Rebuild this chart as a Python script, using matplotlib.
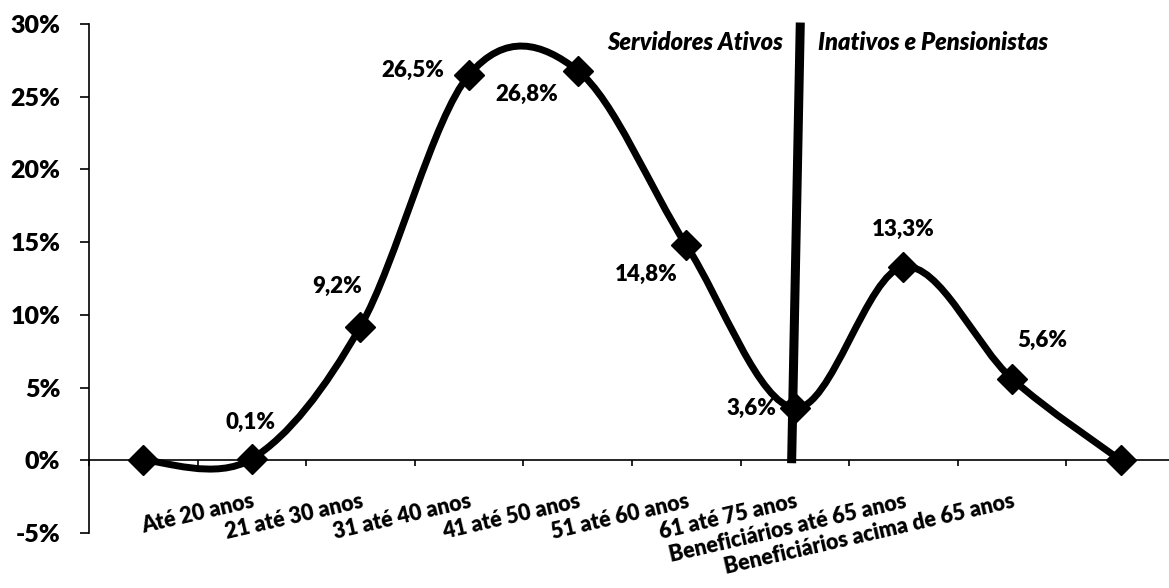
#=======================#
# Libraries importation #
#=======================#

import matplotlib
matplotlib.use("Agg")
import matplotlib.pyplot as plt
from matplotlib.path import Path
from matplotlib.patches import PathPatch

#======#
# Data #
#======#

categories = ["", "Até 20 anos", "21 até 30 anos", "31 até 40 anos", "41 até 50 anos",
              "51 até 60 anos", "61 até 75 anos", "Beneficiários até 65 anos",
              "Beneficiários acima de 65 anos", ""]
values = [0.0, 0.1, 9.2, 26.5, 26.8, 14.8, 3.6, 13.3, 5.6, 0.0]
labelled = [False, True, True, True, True, True, True, True, True, False]
y_ticks = [-5, 0, 5, 10, 15, 20, 25, 30]
y_tick_labels = ["-5%", "0%", "5%", "10%", "15%", "20%", "25%", "30%"]
left_group = "Servidores Ativos"
right_group = "Inativos e Pensionistas"

#==================#
# Global variables #
#==================#

FONT = ["Lato", "DejaVu Sans"]
INK = "black"
WEIGHT = "heavy"
# offsets (points) and alignment of each data label relative to its marker
LABEL_OFFSETS = [None, (-1, 26, "center"), (-17, 29, "center"), (-18, 3, "right"),
                 (-37, -17, "center"), (-29, -21, "center"), (-13, 0, "right"),
                 (0, 27, "center"), (22, 28, "center"), None]

plt.rcParams["font.family"] = FONT


def excel_smooth(xs, ys):
    """ Builds a cubic Bezier path similar to Excel's smoothed line. """
    n = len(xs)
    verts = [(xs[0], ys[0])]
    codes = [Path.MOVETO]
    for i in range(n - 1):
        p = max(i - 1, 0)
        q = min(i + 2, n - 1)
        c1 = (xs[i] + (xs[i + 1] - xs[p]) / 6, ys[i] + (ys[i + 1] - ys[p]) / 6)
        c2 = (xs[i + 1] - (xs[q] - xs[i]) / 6, ys[i + 1] - (ys[q] - ys[i]) / 6)
        verts += [c1, c2, (xs[i + 1], ys[i + 1])]
        codes += [Path.CURVE4] * 3
    return Path(verts, codes)


#==========#
# Plotting #
#==========#

fig = plt.figure(figsize=(11.69, 5.88), dpi=100)
ax = fig.add_axes([0.0761, 0.0935, 0.929, 0.8657])

x = list(range(len(categories)))

ax.add_patch(PathPatch(excel_smooth(x, values), facecolor="none", edgecolor=INK,
                       lw=5, zorder=3, capstyle="round", joinstyle="round"))
ax.plot(x, values, linestyle="none", marker="D", ms=15, color=INK, zorder=4)

# separator between active and inactive groups
ax.plot([5.97, 6.05], [-0.2, 30.1], color=INK, lw=6.5, solid_capstyle="butt",
        zorder=5, clip_on=False)
ax.text(5.89, 28.7, left_group, ha="right", va="center", fontsize=17,
        fontweight=WEIGHT, fontstyle="italic")
ax.text(6.21, 28.7, right_group, ha="left", va="center", fontsize=17,
        fontweight=WEIGHT, fontstyle="italic")

for xi, v, show, off in zip(x, values, labelled, LABEL_OFFSETS):
    if not show:
        continue
    ax.annotate(f"{v:.1f}%".replace(".", ","), (xi, v), xytext=off[:2],
                textcoords="offset points", ha=off[2], va="center",
                fontsize=16, fontweight=WEIGHT, zorder=6)

ax.set_xlim(-0.5, len(categories) - 0.5)
ax.set_ylim(-5, 30)

ax.spines["top"].set_visible(False)
ax.spines["right"].set_visible(False)
ax.spines["bottom"].set_position(("data", 0))
ax.spines["left"].set_linewidth(1.2)
ax.spines["bottom"].set_linewidth(1.2)

ax.set_yticks(y_ticks)
ax.set_yticklabels(y_tick_labels, fontsize=18, fontweight=WEIGHT)
ax.tick_params(axis="y", length=6.5, width=1.2, pad=14)

ax.set_xticks(x)
ax.set_xticklabels(categories, fontsize=15.5, fontweight=WEIGHT, rotation=13,
                   ha="right", va="top", rotation_mode="anchor")
ax.set_xticks([i - 0.5 for i in x] + [len(x) - 0.5], minor=True)
ax.tick_params(axis="x", which="major", length=0, pad=22)
ax.tick_params(axis="x", which="minor", length=4, width=1.2, direction="out")

fig.savefig("out.png", dpi=100, facecolor="white")
